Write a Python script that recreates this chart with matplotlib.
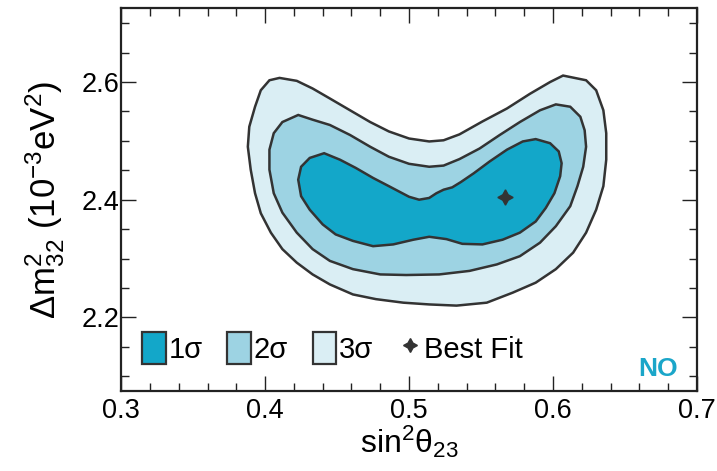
import matplotlib
matplotlib.use("Agg")
import matplotlib.pyplot as plt
from matplotlib.patches import Patch
from matplotlib.lines import Line2D
from matplotlib.ticker import MultipleLocator

plt.rcParams['font.family'] = ['Liberation Sans', 'DejaVu Sans']
plt.rcParams['mathtext.default'] = 'regular'

# contour outlines (sin^2 theta23, dm^2_32)
c3_x = [0.410, 0.422, 0.433, 0.445, 0.459, 0.473, 0.486, 0.500, 0.514, 0.524, 0.535, 0.551,
        0.568, 0.584, 0.598, 0.607, 0.623, 0.630, 0.635, 0.637, 0.637, 0.635, 0.630, 0.623,
        0.614, 0.602, 0.588, 0.572, 0.554, 0.533, 0.514, 0.496, 0.477, 0.461, 0.445, 0.433,
        0.422, 0.412, 0.404, 0.397, 0.393, 0.390, 0.388, 0.389, 0.393, 0.397, 0.403]
c3_y = [2.607, 2.602, 2.589, 2.572, 2.552, 2.532, 2.516, 2.504, 2.499, 2.501, 2.511, 2.533,
        2.555, 2.580, 2.600, 2.611, 2.603, 2.586, 2.552, 2.513, 2.468, 2.423, 2.383, 2.344,
        2.310, 2.282, 2.259, 2.242, 2.225, 2.220, 2.222, 2.225, 2.231, 2.239, 2.256, 2.273,
        2.293, 2.316, 2.344, 2.377, 2.411, 2.451, 2.490, 2.524, 2.558, 2.586, 2.603]

c2_x = [0.423, 0.433, 0.445, 0.459, 0.473, 0.486, 0.500, 0.514, 0.524, 0.535, 0.549, 0.563,
        0.577, 0.591, 0.602, 0.612, 0.619, 0.622, 0.623, 0.621, 0.617, 0.612, 0.602, 0.591,
        0.577, 0.561, 0.542, 0.521, 0.498, 0.480, 0.461, 0.445, 0.433, 0.422, 0.412, 0.406,
        0.403, 0.403, 0.406, 0.412]
c2_y = [2.544, 2.536, 2.527, 2.510, 2.490, 2.473, 2.461, 2.456, 2.458, 2.469, 2.487, 2.510,
        2.532, 2.552, 2.562, 2.558, 2.541, 2.518, 2.490, 2.456, 2.423, 2.389, 2.355, 2.327,
        2.304, 2.290, 2.279, 2.273, 2.272, 2.273, 2.282, 2.296, 2.316, 2.344, 2.378, 2.411,
        2.451, 2.485, 2.513, 2.532]

c1_x = [0.441, 0.452, 0.463, 0.475, 0.486, 0.493, 0.500, 0.507, 0.514, 0.519, 0.524, 0.530,
        0.536, 0.545, 0.556, 0.568, 0.579, 0.588, 0.598, 0.604, 0.606, 0.605, 0.601, 0.595,
        0.588, 0.577, 0.565, 0.551, 0.537, 0.526, 0.514, 0.503, 0.489, 0.475, 0.461, 0.449,
        0.440, 0.431, 0.425, 0.423, 0.425, 0.431]
c1_y = [2.479, 2.468, 2.454, 2.437, 2.423, 2.414, 2.405, 2.400, 2.403, 2.411, 2.417, 2.421,
        2.430, 2.445, 2.465, 2.485, 2.499, 2.503, 2.496, 2.482, 2.462, 2.440, 2.411, 2.386,
        2.363, 2.344, 2.332, 2.324, 2.325, 2.333, 2.337, 2.332, 2.324, 2.321, 2.330, 2.341,
        2.358, 2.383, 2.406, 2.434, 2.456, 2.471]

best_fit_x = 0.567
best_fit_y = 2.405

sigma_labels = ['1σ', '2σ', '3σ']
sigma_colors = ['#13a7c9', '#9dd3e3', '#daeef4']
edge = '#333333'

fig = plt.figure(figsize=(7.17, 4.71), dpi=100)
ax = fig.add_axes([0.169, 0.170, 0.803, 0.812])

ax.fill(c3_x, c3_y, facecolor=sigma_colors[2], edgecolor=edge, lw=1.8, zorder=1)
ax.fill(c2_x, c2_y, facecolor=sigma_colors[1], edgecolor=edge, lw=1.8, zorder=2)
ax.fill(c1_x, c1_y, facecolor=sigma_colors[0], edgecolor=edge, lw=1.8, zorder=3)
ax.plot([best_fit_x], [best_fit_y], marker=(4, 1, 0), ms=11, color=edge, ls='none', zorder=4)

ax.set_xlim(0.3, 0.7)
ax.set_ylim(2.075, 2.725)
ax.xaxis.set_major_locator(MultipleLocator(0.1))
ax.xaxis.set_minor_locator(MultipleLocator(0.02))
ax.yaxis.set_major_locator(MultipleLocator(0.2))
ax.yaxis.set_minor_locator(MultipleLocator(0.05))
ax.tick_params(which='both', direction='in', top=True, right=True, width=1, color='#222222')
ax.tick_params(which='major', length=11, labelsize=19.5)
ax.tick_params(axis='x', which='major', pad=5)
ax.tick_params(axis='y', which='major', pad=1.5)
ax.tick_params(which='minor', length=6)
for s in ax.spines.values():
    s.set_linewidth(1.6)
    s.set_color('#222222')

ax.set_xlabel(r'sin$^2\theta_{23}$', fontsize=23, labelpad=0)
ax.set_ylabel(r'$\Delta m^2_{32}$ (10$^{-3}$eV$^2$)', fontsize=25, labelpad=10)

handles = [Patch(facecolor=c, edgecolor=edge, lw=1.6) for c in sigma_colors]
handles.append(Line2D([], [], marker=(4, 1, 0), ms=10, color=edge, ls='none'))
ax.legend(handles, sigma_labels + ['Best Fit'], loc='center left', ncol=4, frameon=False,
          fontsize=21, handlelength=0.8, handleheight=1.27, handletextpad=0.1,
          columnspacing=0.85, borderpad=0, borderaxespad=0,
          bbox_to_anchor=(0.0365, 0.112))

ax.text(0.673, 2.113, 'NO', color='#1ba6c9', fontsize=19, fontweight='bold',
        ha='center', va='center')

fig.savefig('out.png', dpi=100)
